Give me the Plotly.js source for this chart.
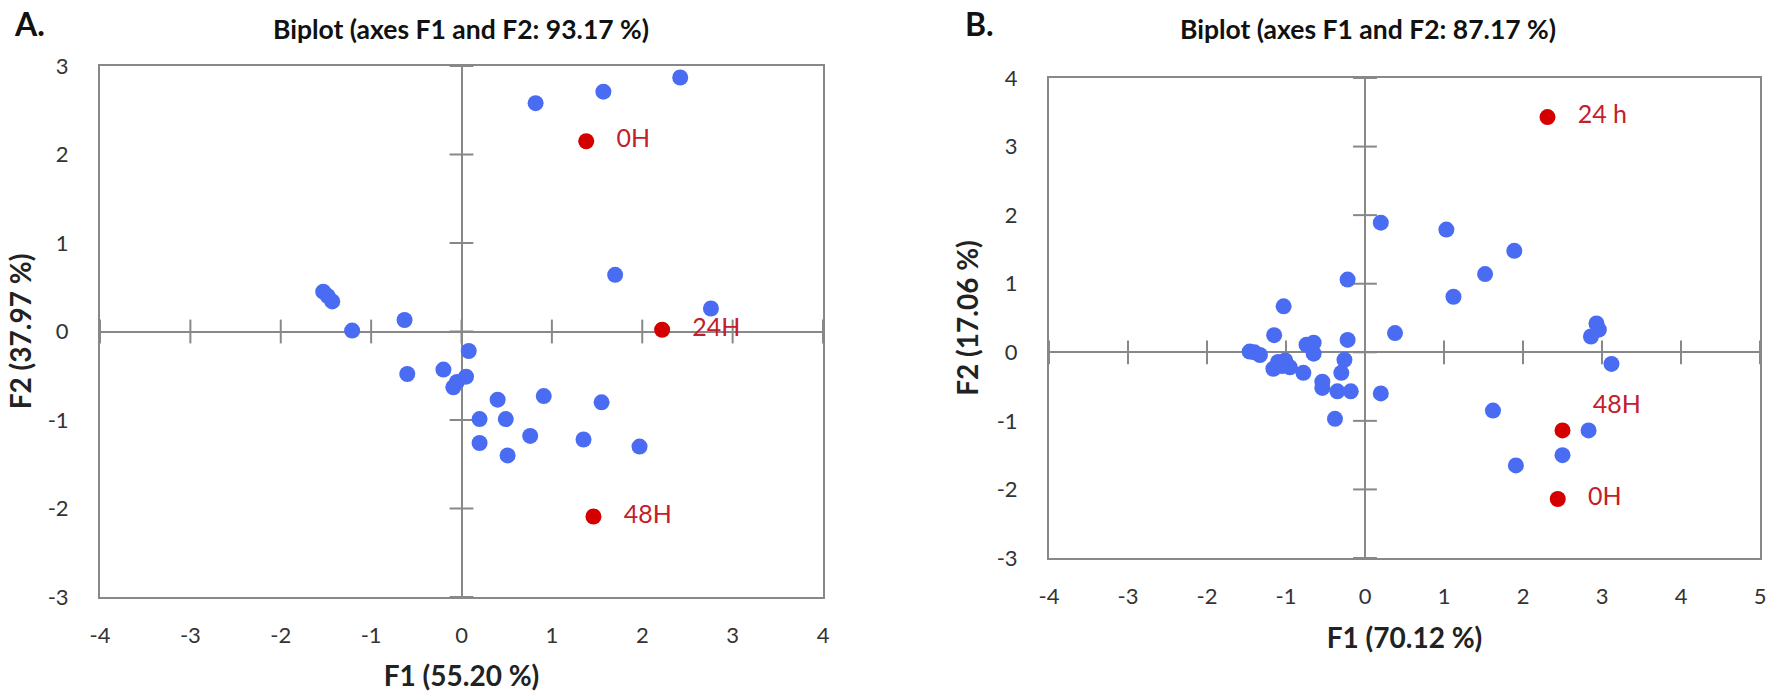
<!DOCTYPE html>
<html>
<head>
<meta charset="utf-8">
<script src="https://cdn.plot.ly/plotly-3.0.1.min.js"></script>
<style>html,body{margin:0;padding:0;background:#fff;}#chart{width:1772px;height:694px;}</style>
</head>
<body>
<div id="chart"></div>
<script>
// ---------- Panel A data ----------
const aBlueX = [0.82, 1.57, 2.42, 1.70, -1.53, -1.48, -1.43, 2.76, -1.21, -0.63, 0.08, -0.60, -0.20, 0.05, -0.05, -0.09, 0.40, 0.91, 1.55, 0.20, 0.49, 0.76, 1.35, 0.20, 0.51, 1.97];
const aBlueY = [2.58, 2.71, 2.87, 0.64, 0.45, 0.40, 0.34, 0.26, 0.01, 0.13, -0.22, -0.48, -0.43, -0.51, -0.57, -0.63, -0.77, -0.73, -0.80, -0.99, -0.99, -1.18, -1.22, -1.26, -1.40, -1.30];
const aRedLabels = ["0H", "24H", "48H"];
const aRedX = [1.38, 2.22, 1.46];
const aRedY = [2.15, 0.02, -2.09];
const aXTicks = [-4, -3, -2, -1, 0, 1, 2, 3, 4];
const aXTickText = ["-4", "-3", "-2", "-1", "0", "1", "2", "3", "4"];
const aYTicks = [-3, -2, -1, 0, 1, 2, 3];
const aYTickText = ["-3", "-2", "-1", "0", "1", "2", "3"];

// ---------- Panel B data ----------
const bBlueX = [0.20, 1.03, 1.89, 1.52, -0.22, 1.12, -1.03, 0.38, 2.93, 2.96, 2.86, 3.12, 1.62, 2.83, 2.50, 1.91, 0.20,
  -1.46, -1.40, -1.33, -1.15, -0.74, -0.65, -0.65, -1.16, -1.10, -1.01, -0.95, -1.05, -0.78, -0.54, -0.54, -0.35, -0.18, -0.38, -0.22, -0.26, -0.30];
const bBlueY = [1.89, 1.79, 1.48, 1.14, 1.06, 0.81, 0.67, 0.28, 0.42, 0.33, 0.23, -0.17, -0.85, -1.14, -1.50, -1.65, -0.60,
  0.01, 0.00, -0.04, 0.25, 0.11, 0.14, -0.02, -0.24, -0.14, -0.12, -0.22, -0.20, -0.30, -0.43, -0.52, -0.57, -0.57, -0.97, 0.18, -0.11, -0.30];
const bRedLabels = ["24 h", "48H", "0H"];
const bRedX = [2.31, 2.50, 2.44];
const bRedY = [3.43, -1.14, -2.14];
const bXTicks = [-4, -3, -2, -1, 0, 1, 2, 3, 4, 5];
const bXTickText = ["-4", "-3", "-2", "-1", "0", "1", "2", "3", "4", "5"];
const bYTicks = [-3, -2, -1, 0, 1, 2, 3, 4];
const bYTickText = ["-3", "-2", "-1", "0", "1", "2", "3", "4"];

const titleA = "Biplot (axes F1 and F2: 93.17 %)";
const titleB = "Biplot (axes F1 and F2: 87.17 %)";
const xTitleA = "F1 (55.20 %)", yTitleA = "F2 (37.97 %)";
const xTitleB = "F1 (70.12 %)", yTitleB = "F2 (17.06 %)";

// ---------- styles ----------
const FONT = "Lato, 'Open Sans', sans-serif";
const BLUE = "#4a6cf2";
const RED = "#d40000";
const LABEL_RED = "#c3202a";
const GRAY = "#888888";
const W = 1772, H = 694;

const domA = {x: [100 / W, 823 / W], y: [1 - 597 / H, 1 - 66 / H]};
const domB = {x: [1049 / W, 1760 / W], y: [1 - 558 / H, 1 - 78 / H]};

function crossTicks(xTicks, yTicks, xa, ya) {
  return [
    {type: "scatter", mode: "markers", x: xTicks, y: xTicks.map(() => 0), xaxis: xa, yaxis: ya,
     marker: {symbol: "line-ns", size: 17, line: {color: GRAY, width: 2}}, hoverinfo: "skip", showlegend: false},
    {type: "scatter", mode: "markers", x: yTicks.map(() => 0), y: yTicks, xaxis: xa, yaxis: ya,
     marker: {symbol: "line-ew", size: 17, line: {color: GRAY, width: 2}}, hoverinfo: "skip", showlegend: false}
  ];
}

const traces = [
  ...crossTicks(aXTicks, aYTicks, "x", "y"),
  {type: "scatter", mode: "markers", x: aBlueX, y: aBlueY, xaxis: "x", yaxis: "y",
   marker: {color: BLUE, size: 16}, showlegend: false},
  {type: "scatter", mode: "markers+text", x: aRedX, y: aRedY, xaxis: "x", yaxis: "y",
   text: aRedLabels.map(s => "   " + s), textposition: "middle right",
   textfont: {family: FONT, size: 25, color: LABEL_RED},
   marker: {color: RED, size: 16}, showlegend: false},
  ...crossTicks(bXTicks, bYTicks, "x2", "y2"),
  {type: "scatter", mode: "markers", x: bBlueX, y: bBlueY, xaxis: "x2", yaxis: "y2",
   marker: {color: BLUE, size: 16}, showlegend: false},
  {type: "scatter", mode: "markers+text", x: bRedX, y: bRedY, xaxis: "x2", yaxis: "y2",
   text: bRedLabels.map(s => "   " + s), textposition: ["middle right", "top right", "middle right"],
   textfont: {family: FONT, size: 25, color: LABEL_RED},
   marker: {color: RED, size: 16}, showlegend: false}
];

function xAxis(dom, ticks, labels, title, anchor, standoff) {
  return {domain: dom, anchor: anchor, range: [ticks[0], ticks[ticks.length - 1]],
    tickmode: "array", tickvals: ticks, ticktext: labels, ticklabelstandoff: 18,
    showgrid: false, zeroline: true, zerolinecolor: GRAY, zerolinewidth: 2,
    showline: true, mirror: true, linecolor: GRAY, linewidth: 2, ticks: "",
    tickfont: {family: FONT, size: 22, color: "#333"},
    title: {text: title, font: {family: FONT, size: 28, color: "#222", weight: "bold"}, standoff: standoff}};
}
function yAxis(dom, ticks, labels, title, anchor, standoff) {
  return {domain: dom, anchor: anchor, range: [ticks[0], ticks[ticks.length - 1]],
    tickmode: "array", tickvals: ticks, ticktext: labels, ticklabelstandoff: 25,
    showgrid: false, zeroline: true, zerolinecolor: GRAY, zerolinewidth: 2,
    showline: true, mirror: true, linecolor: GRAY, linewidth: 2, ticks: "",
    tickfont: {family: FONT, size: 22, color: "#333"},
    title: {text: title, font: {family: FONT, size: 28, color: "#222", weight: "bold"}, standoff: standoff}};
}

const layout = {
  width: W, height: H,
  margin: {l: 0, r: 0, t: 0, b: 0},
  paper_bgcolor: "#fff", plot_bgcolor: "#fff",
  showlegend: false,
  xaxis: xAxis(domA.x, aXTicks, aXTickText, xTitleA, "y", 19),
  yaxis: yAxis(domA.y, aYTicks, aYTickText, yTitleA, "x", 8),
  xaxis2: xAxis(domB.x, bXTicks, bXTickText, xTitleB, "y2", 20),
  yaxis2: yAxis(domB.y, bYTicks, bYTickText, yTitleB, "x2", 10),
  annotations: [
    {text: titleA, xref: "paper", yref: "paper", x: 461 / W, y: 1 - 29 / H, xanchor: "center", yanchor: "middle",
     showarrow: false, font: {family: FONT, size: 26.5, color: "#111", weight: "bold"}},
    {text: titleB, xref: "paper", yref: "paper", x: 1368 / W, y: 1 - 29 / H, xanchor: "center", yanchor: "middle",
     showarrow: false, font: {family: FONT, size: 26.5, color: "#111", weight: "bold"}},
    {text: "A.", xref: "paper", yref: "paper", x: 12 / W, y: 1 - 23 / H, xanchor: "left", yanchor: "middle",
     showarrow: false, font: {family: FONT, size: 32, color: "#111", weight: "bold"}},
    {text: "B.", xref: "paper", yref: "paper", x: 963 / W, y: 1 - 23 / H, xanchor: "left", yanchor: "middle",
     showarrow: false, font: {family: FONT, size: 32, color: "#111", weight: "bold"}}
  ]
};

Plotly.newPlot("chart", traces, layout, {displayModeBar: false, staticPlot: true});
</script>
</body>
</html>
